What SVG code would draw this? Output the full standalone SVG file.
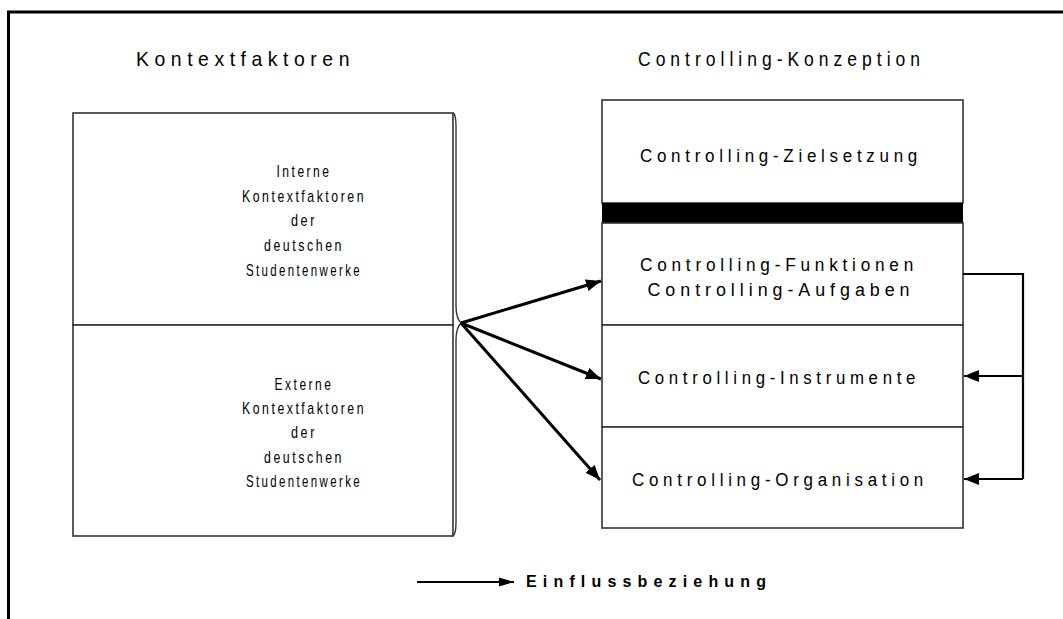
<svg xmlns="http://www.w3.org/2000/svg" width="1063" height="619" viewBox="0 0 1063 619">
  <style>
    text { font-family: "Liberation Sans", Arial, sans-serif; fill: #000; }
    .title { font-size: 21px; letter-spacing: 6px; }
    .lbl { font-size: 18px; letter-spacing: 5px; text-anchor: middle; }
    .lbl2 { font-size: 17px; letter-spacing: 3.5px; text-anchor: middle; }
    .legend { font-size: 16px; font-weight: bold; }
    .box { fill: #fff; stroke: #333; stroke-width: 1.6; }
    .conn { stroke: #000; stroke-width: 3; fill: none; }
    .fb { stroke: #000; stroke-width: 2.2; fill: none; }
  </style>
  <defs>
    <marker id="ah" markerUnits="userSpaceOnUse" markerWidth="16" markerHeight="12" refX="15" refY="6" orient="auto">
      <path d="M0,0 L15,6 L0,12 Z" fill="#000"/>
    </marker>
    <marker id="ahs" markerUnits="userSpaceOnUse" markerWidth="16" markerHeight="10" refX="15" refY="5" orient="auto">
      <path d="M0,0.5 L15,5 L0,9.5 Z" fill="#000"/>
    </marker>
  </defs>
  <rect width="1063" height="619" fill="#fff"/>

  <!-- outer frame: top and left rules -->
  <path d="M8.5,619 V12 H1063" fill="none" stroke="#000" stroke-width="3"/>

  <!-- column headings -->
  <text class="title" x="136" y="66" textLength="219" lengthAdjust="spacingAndGlyphs">Kontextfaktoren</text>
  <text class="title" x="638" y="66" textLength="287" lengthAdjust="spacingAndGlyphs">Controlling-Konzeption</text>

  <!-- context factors (left) -->
  <g id="kontext-intern">
    <rect class="box" x="73" y="113" width="380" height="212"/>
    <text class="lbl2" x="304" y="177" textLength="55" lengthAdjust="spacingAndGlyphs">Interne</text>
    <text class="lbl2" x="304" y="202" textLength="124" lengthAdjust="spacingAndGlyphs">Kontextfaktoren</text>
    <text class="lbl2" x="304" y="226" textLength="26" lengthAdjust="spacingAndGlyphs">der</text>
    <text class="lbl2" x="304" y="251" textLength="80" lengthAdjust="spacingAndGlyphs">deutschen</text>
    <text class="lbl2" x="304" y="276" textLength="116" lengthAdjust="spacingAndGlyphs">Studentenwerke</text>
  </g>
  <g id="kontext-extern">
    <rect class="box" x="73" y="325" width="380" height="211"/>
    <text class="lbl2" x="304" y="390" textLength="59" lengthAdjust="spacingAndGlyphs">Externe</text>
    <text class="lbl2" x="304" y="414" textLength="124" lengthAdjust="spacingAndGlyphs">Kontextfaktoren</text>
    <text class="lbl2" x="304" y="438" textLength="26" lengthAdjust="spacingAndGlyphs">der</text>
    <text class="lbl2" x="304" y="463" textLength="80" lengthAdjust="spacingAndGlyphs">deutschen</text>
    <text class="lbl2" x="304" y="487" textLength="116" lengthAdjust="spacingAndGlyphs">Studentenwerke</text>
  </g>
  <!-- brace joining both context boxes -->
  <path id="klammer" d="M453,113 Q456,114 456,126 V306 Q456,318 461,323 Q456,328 456,340 V522 Q456,534 453,536" fill="none" stroke="#333" stroke-width="1.4"/>

  <!-- controlling concept (right) -->
  <g id="ziel">
    <rect class="box" x="602" y="100" width="361" height="103"/>
    <text class="lbl" x="781" y="162" textLength="282" lengthAdjust="spacingAndGlyphs">Controlling-Zielsetzung</text>
  </g>
  <rect id="trenner" x="602" y="203" width="361" height="20" fill="#000"/>
  <g id="funktionen">
    <rect class="box" x="602" y="223" width="361" height="102"/>
    <text class="lbl" x="779" y="271" textLength="278" lengthAdjust="spacingAndGlyphs">Controlling-Funktionen</text>
    <text class="lbl" x="781" y="296" textLength="267" lengthAdjust="spacingAndGlyphs">Controlling-Aufgaben</text>
  </g>
  <g id="instrumente">
    <rect class="box" x="602" y="325" width="361" height="102"/>
    <text class="lbl" x="779" y="384" textLength="282" lengthAdjust="spacingAndGlyphs">Controlling-Instrumente</text>
  </g>
  <g id="organisation">
    <rect class="box" x="602" y="427" width="361" height="101"/>
    <text class="lbl" x="780" y="486" textLength="296" lengthAdjust="spacingAndGlyphs">Controlling-Organisation</text>
  </g>

  <!-- influence connectors -->
  <g id="connectors">
    <path class="conn" d="M461,323 L601,281" marker-end="url(#ah)"/>
    <path class="conn" d="M461,323 L601,379" marker-end="url(#ah)"/>
    <path class="conn" d="M461,323 L600,480" marker-end="url(#ah)"/>
    <path class="fb" d="M963,274 H1023 V479"/>
    <path class="fb" d="M1023,376 H964" marker-end="url(#ah)"/>
    <path class="fb" d="M1023,479 H964" marker-end="url(#ah)"/>
  </g>

  <!-- legend -->
  <g id="legende">
    <path d="M417,582 H514" stroke="#000" stroke-width="1.8" fill="none" marker-end="url(#ahs)"/>
    <text class="legend" x="526" y="587" textLength="240" lengthAdjust="spacing">Einflussbeziehung</text>
  </g>
</svg>
